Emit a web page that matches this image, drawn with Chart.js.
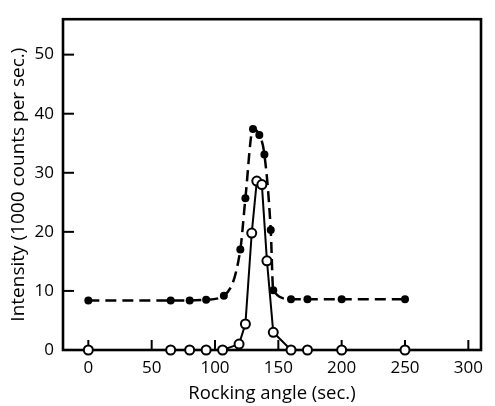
<!DOCTYPE html>
<html>
<head>
<meta charset="utf-8">
<script src="https://cdn.jsdelivr.net/npm/chart.js@4.4.1/dist/chart.umd.min.js"></script>
<style>
  html, body { margin: 0; padding: 0; background: #fff; }
  canvas { display: block; }
</style>
</head>
<body>
<canvas id="c" width="495" height="406"></canvas>
<script>
// Rocking angle (sec.) for each measured point
const filledAngles = [0, 65, 80, 93, 107, 120, 124, 130, 135, 139, 144, 146, 160, 173, 200, 250];
const filledIntensity = [8.4, 8.4, 8.4, 8.5, 9.2, 17.0, 25.7, 37.4, 36.4, 33.1, 20.3, 10.1, 8.6, 8.6, 8.6, 8.6];

const openAngles = [0, 65, 80, 93, 106, 119, 124, 129, 133, 137, 141, 146, 160, 173, 200, 250];
const openIntensity = [0, 0, 0, 0, 0, 1.0, 4.4, 19.8, 28.6, 28.0, 15.1, 3.0, 0, 0, 0, 0];

const xTickValues = [0, 50, 100, 150, 200, 250, 300];
const yTickValues = [0, 10, 20, 30, 40, 50];

const toPoints = (xs, ys) => xs.map((x, i) => ({ x: x, y: ys[i] }));

const FONT = '"Open Sans", Lato, "DejaVu Sans", sans-serif';

const framePlugin = {
  id: 'frame',
  beforeDatasetsDraw(chart) {
    const { ctx, chartArea: a, scales } = chart;
    ctx.save();
    ctx.strokeStyle = '#000';
    ctx.lineWidth = 2.6;
    ctx.strokeRect(a.left, a.top, a.right - a.left, a.bottom - a.top);
    ctx.lineWidth = 2;
    scales.x.ticks.forEach(t => {
      const px = scales.x.getPixelForValue(t.value);
      ctx.beginPath(); ctx.moveTo(px, a.bottom); ctx.lineTo(px, a.bottom - 10); ctx.stroke();
    });
    scales.y.ticks.forEach(t => {
      const py = scales.y.getPixelForValue(t.value);
      ctx.beginPath(); ctx.moveTo(a.left, py); ctx.lineTo(a.left + 11, py); ctx.stroke();
    });
    ctx.restore();
  }
};

new Chart(document.getElementById('c'), {
  type: 'scatter',
  data: {
    datasets: [
      {
        label: 'open',
        data: toPoints(openAngles, openIntensity),
        showLine: true,
        borderColor: '#000',
        borderWidth: 2,
        tension: 0,
        pointRadius: 4.5,
        pointBackgroundColor: '#fff',
        pointBorderColor: '#000',
        pointBorderWidth: 2,
        clip: false
      },
      {
        label: 'filled',
        data: toPoints(filledAngles, filledIntensity),
        showLine: true,
        borderColor: '#000',
        borderWidth: 2.5,
        borderDash: [11, 6],
        cubicInterpolationMode: 'monotone',
        tension: 0.4,
        pointRadius: 4,
        pointBackgroundColor: '#000',
        pointBorderColor: '#000',
        pointBorderWidth: 0,
        clip: false
      }
    ]
  },
  plugins: [framePlugin],
  options: {
    responsive: false,
    animation: false,
    layout: { padding: { top: 12, right: 14, left: 0, bottom: 0 } },
    plugins: { legend: { display: false }, tooltip: { enabled: false } },
    scales: {
      x: {
        type: 'linear',
        min: -20,
        max: 310,
        afterBuildTicks: s => { s.ticks = xTickValues.map(v => ({ value: v })); },
        afterFit: s => { s.height = 56; },
        grid: { display: false, drawTicks: false },
        border: { display: false },
        ticks: { color: '#000', padding: 8, font: { family: FONT, size: 17 } },
        title: {
          display: true,
          text: 'Rocking angle (sec.)',
          color: '#000',
          font: { family: FONT, size: 18.5 },
          padding: { top: 0, bottom: 1 }
        }
      },
      y: {
        type: 'linear',
        min: 0,
        max: 56,
        afterBuildTicks: s => { s.ticks = yTickValues.map(v => ({ value: v })); },
        afterFit: s => { s.width = 63; },
        grid: { display: false, drawTicks: false },
        border: { display: false },
        ticks: { color: '#000', padding: 9, font: { family: FONT, size: 17 } },
        title: {
          display: true,
          text: 'Intensity (1000 counts per sec.)',
          color: '#000',
          font: { family: FONT, size: 19 },
          padding: { top: 7, bottom: 0 }
        }
      }
    }
  }
});
</script>
</body>
</html>
